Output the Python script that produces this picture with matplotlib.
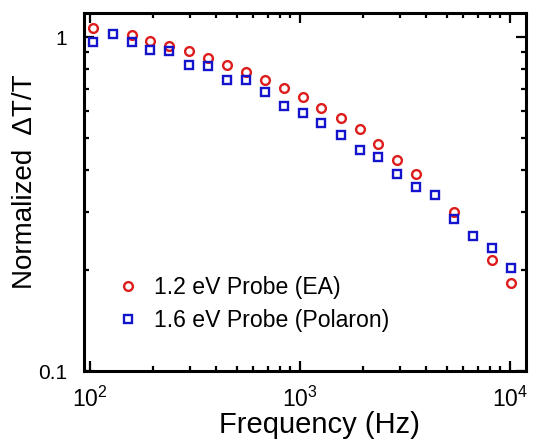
import numpy as np
import matplotlib
matplotlib.use("Agg")
import matplotlib.pyplot as plt
from matplotlib.ticker import LogLocator, NullFormatter

plt.rcParams['font.family'] = ['Liberation Sans', 'DejaVu Sans']
plt.rcParams['mathtext.fontset'] = 'custom'
plt.rcParams['mathtext.rm'] = 'Liberation Sans'
plt.rcParams['mathtext.it'] = 'Liberation Sans'

# Modulation frequency (Hz) and normalized signal for each probe
freq_ea = [103, 158, 194, 239, 295, 363, 447, 552, 681, 839, 1030, 1260,
           1560, 1920, 2360, 2910, 3580, 5430, 8220, 10100]
signal_ea = [1.062, 1.014, 0.975, 0.941, 0.909, 0.868, 0.827, 0.786, 0.745,
             0.703, 0.663, 0.612, 0.571, 0.530, 0.479, 0.428, 0.388, 0.299,
             0.2145, 0.183]

freq_pol = [103, 128, 158, 194, 239, 295, 363, 447, 552, 681, 839, 1030,
            1260, 1560, 1920, 2360, 2910, 3580, 4410, 5430, 6680, 8220, 10100]
signal_pol = [0.968, 1.019, 0.968, 0.914, 0.907, 0.823, 0.818, 0.742, 0.742,
              0.684, 0.620, 0.592, 0.551, 0.508, 0.459, 0.438, 0.388, 0.355,
              0.336, 0.285, 0.254, 0.234, 0.204]

label_ea = "1.2 eV Probe (EA)"
label_pol = "1.6 eV Probe (Polaron)"

fig = plt.figure(figsize=(5.35, 4.41), dpi=100)
ax = fig.add_axes([0.157, 0.1587, 0.826, 0.8118])

ax.plot(freq_ea, signal_ea, linestyle='none', marker='o', ms=6.3, mew=1.7,
        mfc='none', mec='#dd1c1c', label=label_ea)
ax.plot(freq_pol, signal_pol, linestyle='none', marker='s', ms=6, mew=1.7,
        mfc='none', mec='#1414cc', label=label_pol)

ax.set_xscale('log')
ax.set_yscale('log')
ax.set_xlim(93.6, 11900)
ax.set_ylim(0.1, 1.18)

ax.set_yticks([0.1, 1])
ax.set_yticklabels(['0.1', '1'])
ax.yaxis.set_minor_locator(LogLocator(base=10, subs=np.arange(2, 10), numticks=10))
ax.yaxis.set_minor_formatter(NullFormatter())
ax.xaxis.set_minor_locator(LogLocator(base=10, subs=np.arange(2, 10), numticks=10))
ax.xaxis.set_minor_formatter(NullFormatter())

for s in ax.spines.values():
    s.set_linewidth(2.2)
ax.tick_params(which='both', direction='in', top=True, right=True,
               width=1.6, color='black')
ax.tick_params(which='major', length=7)
ax.tick_params(which='minor', length=3.6)
ax.tick_params(axis='y', which='major', labelsize=15, pad=12)
ax.tick_params(axis='x', which='major', labelsize=16.5, pad=11.5)

ax.set_xlabel('Frequency (Hz)', fontsize=21, labelpad=-1)
ax.xaxis.label.set_x(0.533)
ax.set_ylabel('Normalized  ΔT/T', fontsize=20, labelpad=0.5)
ax.yaxis.label.set_y(0.528)

ax.legend(loc='lower left', bbox_to_anchor=(0.053, 0.083), frameon=False,
          fontsize=16.6, handletextpad=0.6, labelspacing=0.42, handlelength=1.0,
          borderaxespad=0)

fig.savefig('out.png', dpi=100)
